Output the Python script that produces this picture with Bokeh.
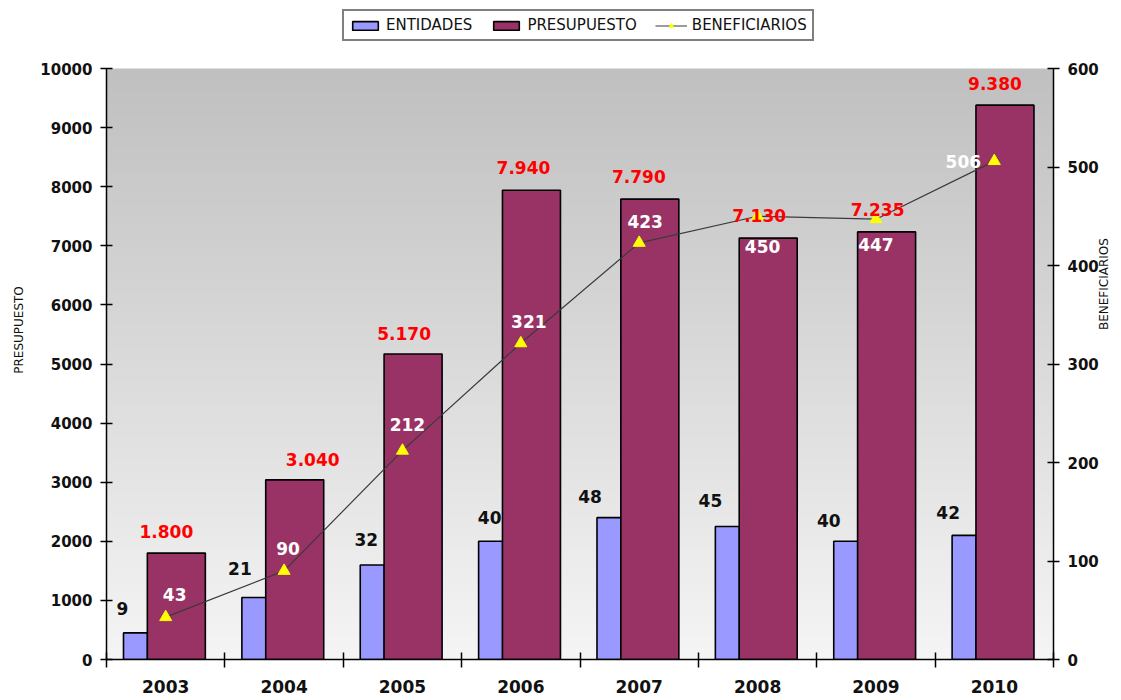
import math
import numpy as np
from bokeh.plotting import figure
from bokeh.models import (Range1d, LinearAxis, FixedTicker, ColumnDataSource,
                          LabelSet, Legend, LegendItem)
from bokeh.transform import dodge
from bokeh.core.properties import value
from bokeh.embed import file_html
from bokeh.resources import INLINE

# ---------------- data ----------------
years = ["2003", "2004", "2005", "2006", "2007", "2008", "2009", "2010"]
entidades = [9, 21, 32, 40, 48, 45, 40, 42]
presupuesto = [1800, 3040, 5170, 7940, 7790, 7130, 7235, 9380]
beneficiarios = [43, 90, 212, 321, 423, 450, 447, 506]
presupuesto_labels = ["1.800", "3.040", "5.170", "7.940", "7.790", "7.130", "7.235", "9.380"]
left_ticks = [0, 1000, 2000, 3000, 4000, 5000, 6000, 7000, 8000, 9000, 10000]
right_ticks = [0, 100, 200, 300, 400, 500, 600]
left_max, right_max, ent_max = 10000, 600, 200

# label nudges (screen px)
pre_dx = [-10, 18, -9, -8, -11, -9, -9, -10]
pre_dy = [22, 20, 20, 23, 23, 23, 22, 22]
ent_dx = [-13, -14, -6, -1, -19, -17, -17, -16]
ent_dy = [24, 29, 25, 24, 21, 26, 21, 23]
ben_dx = [9, 4, 5, 8, 6, 5, 0, -31]
ben_dy = [23, 22, 26, 22, 21, -30, -25, 0]

FONT = "DejaVu Sans"
W, H = 1121, 700
LEFT, RIGHT, BOTTOM = 106, 68, 41
AXIS_TOP = 68                       # pixel row of the top tick
frame_h = H - BOTTOM
head = frame_h / (frame_h - AXIS_TOP)   # room above the axes for the legend

xs = [i + 0.5 for i in range(len(years))]

src = ColumnDataSource(dict(
    x=xs, ent=entidades, pre=presupuesto, ben=beneficiarios,
    pre_lbl=presupuesto_labels,
    ent_lbl=[str(v) for v in entidades],
    ben_lbl=[str(v) for v in beneficiarios],
    pre_dx=pre_dx, pre_dy=pre_dy, ent_dx=ent_dx, ent_dy=ent_dy,
    ben_dx=ben_dx, ben_dy=ben_dy,
))

p = figure(width=W, height=H, x_range=Range1d(0, len(years)),
           y_range=Range1d(0, left_max * head), output_backend="svg",
           toolbar_location=None, min_border_left=LEFT, min_border_right=RIGHT,
           min_border_top=0, min_border_bottom=BOTTOM)
p.extra_y_ranges = {"ben": Range1d(0, right_max * head),
                    "ent": Range1d(0, ent_max * head)}
p.outline_line_color = None
p.xgrid.visible = False
p.ygrid.visible = False
p.background_fill_color = "white"
p.border_fill_color = "white"

# gradient background of the plot area
n = 256
shade = np.linspace(245, 192, n).astype(np.uint8)
img = np.zeros((n, 1), dtype=np.uint32)
view = img.view(dtype=np.uint8).reshape((n, 1, 4))
view[:, 0, 0] = shade
view[:, 0, 1] = shade
view[:, 0, 2] = shade
view[:, 0, 3] = 255
p.image_rgba(image=[img], x=0, y=0, dw=len(years), dh=left_max)

# bars
r_ent = p.vbar(x=dodge("x", -0.255), top="ent", width=0.203, source=src,
               y_range_name="ent", fill_color="#9999FF", line_color="black",
               line_width=1.6)
r_pre = p.vbar(x=dodge("x", 0.09), top="pre", width=0.49, source=src,
               fill_color="#993366", line_color="black", line_width=1.6)
# line
r_line = p.line("x", "ben", source=src, y_range_name="ben",
                line_color="#3a3a3a", line_width=1.2)
r_mk = p.scatter("x", "ben", source=src, y_range_name="ben", marker="triangle",
                 size=12, fill_color="#FFFF00", line_color="#FFFF00")

# labels
common = dict(source=src, text_font=value(FONT), text_font_style="bold",
              text_font_size="17px", text_align="center", text_baseline="middle")
p.add_layout(LabelSet(x=dodge("x", 0.09), y="pre", text="pre_lbl",
                      x_offset="pre_dx", y_offset="pre_dy",
                      text_color="#FF0000", **common))
p.add_layout(LabelSet(x=dodge("x", -0.255), y="ent", text="ent_lbl",
                      y_range_name="ent", x_offset="ent_dx", y_offset="ent_dy",
                      text_color="#111111", **common))
p.add_layout(LabelSet(x="x", y="ben", text="ben_lbl", y_range_name="ben",
                      x_offset="ben_dx", y_offset="ben_dy",
                      text_color="#FFFFFF", **common))

# axes
def style_axis(ax, size="15px"):
    ax.axis_line_color = "black"
    ax.axis_line_width = 1.5
    ax.major_tick_line_color = "black"
    ax.major_tick_line_width = 1.5
    ax.minor_tick_line_color = None
    ax.major_label_text_font = FONT
    ax.major_label_text_font_style = "bold"
    ax.major_label_text_font_size = size
    ax.major_label_text_color = "#111111"
    ax.axis_label_text_font = FONT
    ax.axis_label_text_font_style = "normal"
    ax.axis_label_text_font_size = "12px"
    ax.axis_label_text_color = "#111111"

ya = p.yaxis[0]
ya.ticker = FixedTicker(ticks=left_ticks)
ya.bounds = (0, left_max)
ya.axis_label = "PRESUPUESTO"
style_axis(ya)
ya.major_tick_in = 6
ya.major_tick_out = 6
ya.major_label_standoff = 8
ya.axis_label_standoff = 11

ry = LinearAxis(y_range_name="ben", ticker=FixedTicker(ticks=right_ticks),
                axis_label="BENEFICIARIOS", bounds=(0, right_max))
style_axis(ry)
ry.major_tick_in = 6
ry.major_tick_out = 6
ry.major_label_standoff = 8
ry.axis_label_standoff = 2
try:
    ry.axis_label_orientation = math.pi / 2
except Exception:
    pass
p.add_layout(ry, "right")

xa = p.xaxis[0]
xa.ticker = FixedTicker(ticks=xs, minor_ticks=list(range(len(years) + 1)))
xa.major_label_overrides = {xv: y for xv, y in zip(xs, years)}
style_axis(xa, "17px")
xa.major_tick_in = 0
xa.major_tick_out = 0
xa.minor_tick_line_color = "black"
xa.minor_tick_line_width = 1.5
xa.minor_tick_in = 7
xa.minor_tick_out = 8
xa.major_label_standoff = 12

# legend (bottom-left corner given in frame pixels)
legend = Legend(items=[
    LegendItem(label="ENTIDADES", renderers=[r_ent]),
    LegendItem(label="PRESUPUESTO", renderers=[r_pre]),
    LegendItem(label="BENEFICIARIOS", renderers=[r_line, r_mk]),
], orientation="horizontal", location=(236, frame_h - 41),
    border_line_color="black", border_line_width=2,
    background_fill_color="white", background_fill_alpha=1.0,
    label_text_font=FONT, label_text_font_size="15px", label_text_color="#111111",
    glyph_width=32, glyph_height=11, label_standoff=5, spacing=18, padding=5,
    margin=0, label_height=14)
p.add_layout(legend, "center")

open("out.html", "w").write(file_html(p, INLINE))
